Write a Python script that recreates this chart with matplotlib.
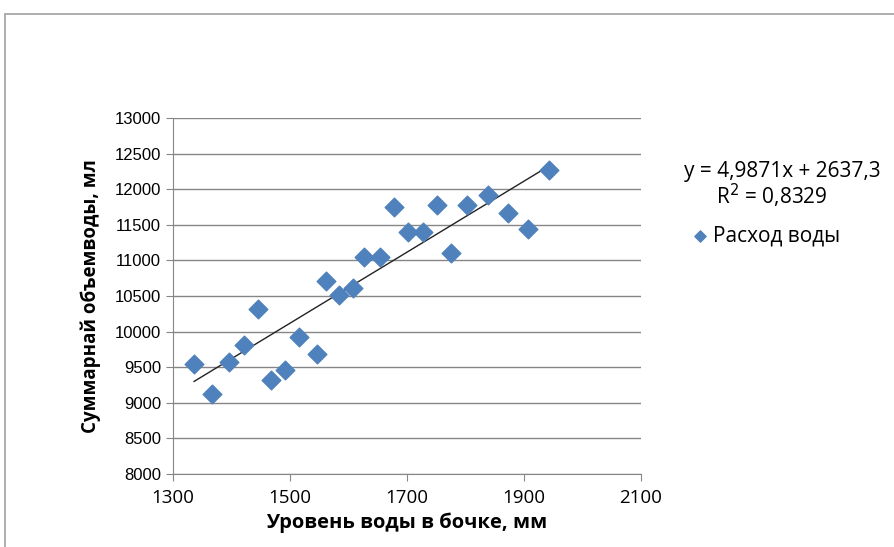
import matplotlib.pyplot as plt
from matplotlib.patches import Rectangle

# уровень воды (мм) и суммарный объем (мл)
level = [1336, 1366, 1395, 1422, 1446, 1467, 1492, 1516, 1546, 1561, 1584, 1607,
         1626, 1653, 1677, 1701, 1728, 1751, 1775, 1802, 1838, 1872, 1906, 1943]
volume = [9549, 9127, 9573, 9808, 10315, 9324, 9455, 9925, 9681, 10714, 10512, 10606,
          11052, 11052, 11756, 11404, 11404, 11779, 11099, 11779, 11920, 11671, 11437, 12263]

slope, intercept = 4.9871, 2637.3
xticks = [1300, 1500, 1700, 1900, 2100]
yticks = list(range(8000, 13001, 500))

plt.rcParams['font.family'] = ['Open Sans', 'DejaVu Sans']

fig = plt.figure(figsize=(8.95, 5.47), dpi=100)
# рамка области диаграммы
fig.patches.append(Rectangle((5 / 895, -0.1), 1.2, 1 - 14 / 547 + 0.1,
                             transform=fig.transFigure, fill=False,
                             edgecolor='#a0a0a0', linewidth=1.2))

ax = fig.add_axes([173 / 895, 1 - 474 / 547, (641 - 173) / 895, (474 - 118) / 547])

ax.scatter(level, volume, marker='D', s=90, color='#4F81BD', zorder=3, label='Расход воды')
x0, x1 = min(level), max(level)
ax.plot([x0, x1], [slope * x0 + intercept, slope * x1 + intercept], color='#222222', lw=1, zorder=2)

ax.set_xlim(1300, 2100)
ax.set_ylim(8000, 13000)
ax.set_xticks(xticks)
ax.set_yticks(yticks)
ax.tick_params(axis='both', color='#868686', length=5)
ax.tick_params(axis='x', labelsize=13.5, pad=6)
ax.tick_params(axis='y', labelsize=12)
for lab in ax.get_yticklabels():
    lab.set_family('Liberation Sans')
ax.yaxis.grid(True, color='#868686', lw=1)
ax.set_axisbelow(True)
for s in ['top', 'right']:
    ax.spines[s].set_visible(False)
for s in ['left', 'bottom']:
    ax.spines[s].set_color('#868686')

ax.set_xlabel('Уровень воды в бочке, мм', fontsize=14.5, fontweight='bold', labelpad=4)
ax.set_ylabel('Суммарнай объемводы, мл', fontsize=13.5, fontweight='bold', labelpad=10)

fig.text(782 / 895, 1 - 171 / 547, 'y = 4,9871x + 2637,3', ha='center', va='center', fontsize=15)
fig.text(772 / 895, 1 - 196 / 547, 'R$^2$ = 0,8329', ha='center', va='center', fontsize=15)
ax.legend(loc='center left', bbox_to_anchor=(690 / 895, 1 - 236 / 547), bbox_transform=fig.transFigure,
          frameon=False, fontsize=15, markerscale=0.6, handletextpad=0.1, handlelength=1.0,
          borderaxespad=0, borderpad=0)

fig.savefig('out.png', dpi=100)
